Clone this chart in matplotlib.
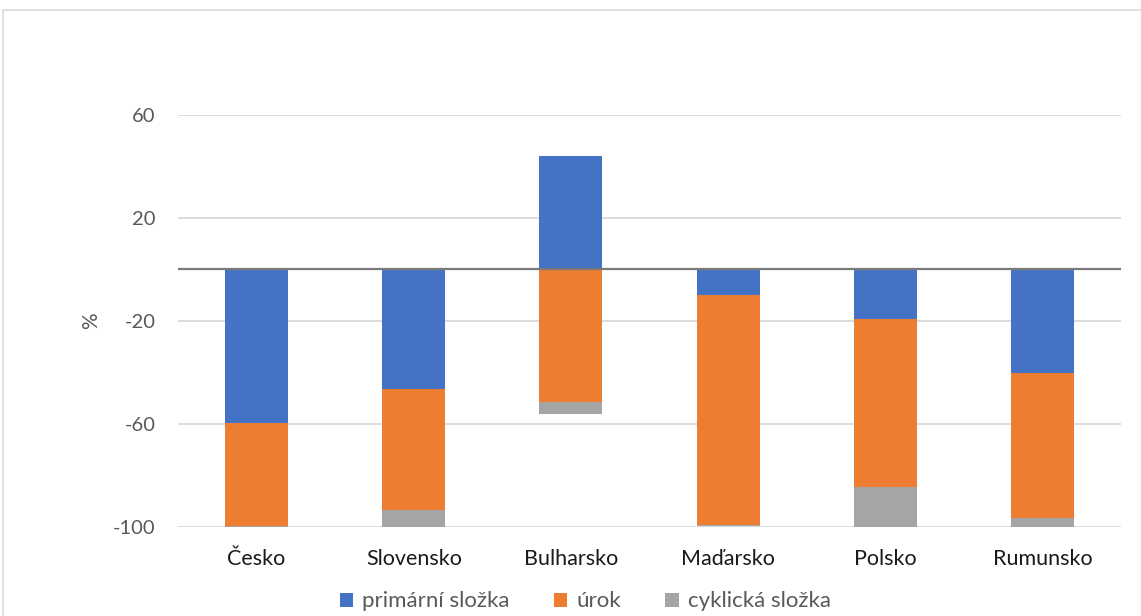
import matplotlib
matplotlib.use('agg')
import numpy as np
import matplotlib.pyplot as plt
from matplotlib.patches import Rectangle

countries = ['Česko', 'Slovensko', 'Bulharsko', 'Maďarsko', 'Polsko', 'Rumunsko']
primarni = [-59.6, -46.4, 43.9, -10.0, -19.2, -40.1]
urok = [-40.2, -47.1, -51.4, -89.3, -65.2, -56.5]
cyklicka = [-0.5, -6.6, -4.7, -0.5, -15.7, -3.5]
yticks = [60, 20, -20, -60, -100]

plt.rcParams['font.family'] = ['Lato', 'DejaVu Sans']
text_col = '#595959'

fig = plt.figure(figsize=(11.41, 6.16), dpi=100)
ax = fig.add_axes([178 / 1141, 1 - 526.7 / 616, (1121 - 178) / 1141, (526.7 - 115) / 616])

x = np.arange(len(countries))
width = 0.4

# primary component starts at zero, the others stack below it (or below zero for positive primary)
prim = np.array(primarni)
ur = np.array(urok)
cyk = np.array(cyklicka)
neg_base = np.minimum(prim, 0)

ax.bar(x, prim, width, color='#4472c4', label='primární složka', zorder=3)
ax.bar(x, ur, width, bottom=neg_base, color='#ed7d31', label='úrok', zorder=3)
ax.bar(x, cyk, width, bottom=neg_base + ur, color='#a5a5a5', label='cyklická složka', zorder=3)

ax.set_xlim(-0.5, len(countries) - 0.5)
ax.set_ylim(-100, 60)
ax.set_yticks(yticks)
ax.set_yticklabels([str(v) for v in yticks])
ax.set_xticks(x)
ax.set_xticklabels(countries)
ax.grid(axis='y', color='#d9d9d9', linewidth=1.3, zorder=0)
ax.axhline(0, color='#7a7a7a', linewidth=1.6, zorder=4)
ax.tick_params(axis='y', length=0, labelsize=14.5, colors=text_col, pad=16)
ax.tick_params(axis='x', length=0, labelsize=15.5, colors='#1a1a1a', pad=16)
for s in ax.spines.values():
    s.set_visible(False)
ax.set_ylabel('%', fontsize=15, color=text_col, labelpad=9)

leg = fig.legend(loc='lower center', bbox_to_anchor=(0.513, -0.025), ncol=3, frameon=False,
                 fontsize=16, handlelength=0.6, handleheight=0.6, columnspacing=2.0,
                 handletextpad=0.4)
for t in leg.get_texts():
    t.set_color(text_col)

# chart area border
fig.patches.append(Rectangle((3 / 1141, -0.01), 1.02, 1 - 10 / 616 + 0.01,
                             transform=fig.transFigure, fill=False,
                             edgecolor='#d9d9d9', linewidth=1.2))

fig.savefig('out.png', dpi=100)
